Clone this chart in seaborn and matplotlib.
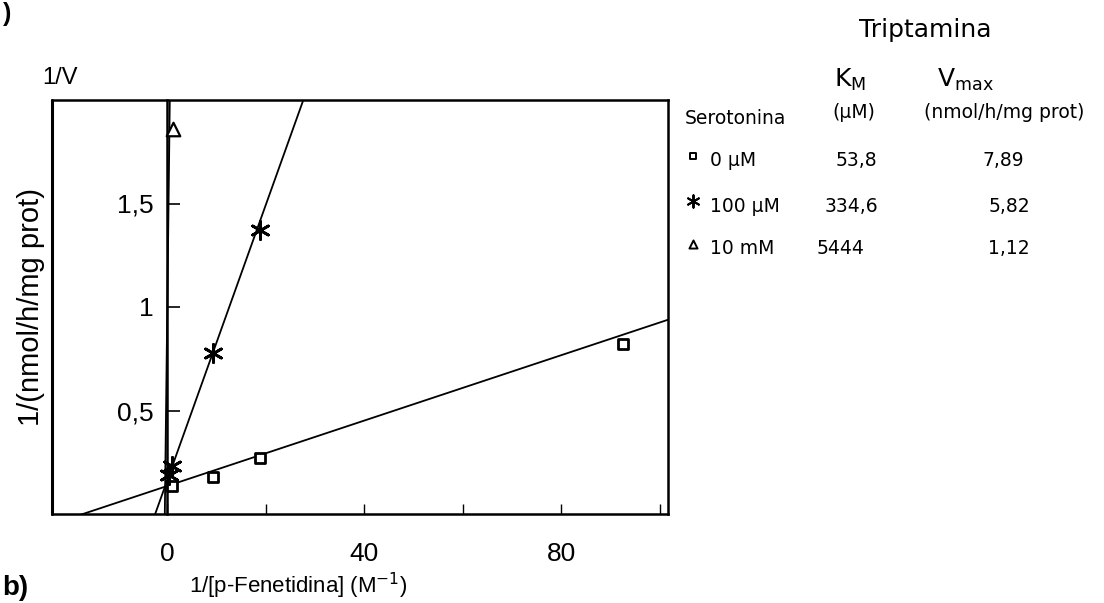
import numpy as np
import pandas as pd
import seaborn as sns
from matplotlib import pyplot as plt

# Lineweaver-Burk points
sq_x = [1.0, 9.3, 18.9, 92.5]
sq_y = [0.135, 0.18, 0.27, 0.82]
star_x = [0.5, 1.0, 9.3, 18.9]
star_y = [0.19, 0.23, 0.78, 1.37]
tri_x = [1.2]
tri_y = [1.86]

# fitted lines as drawn (intercept, slope)
fit_intercepts = [0.135, 0.16, 0.89]
fit_slopes = [0.0079, 0.0665, 1.98]

x_ticks = [0, 40, 80]
x_minor = [20, 60, 100]
y_ticks = [0.5, 1, 1.5]
y_tick_labels = ['0,5', '1', '1,5']

# kinetic table
conc_labels = ['0 µM', '100 µM', '10 mM']
km_values = ['53,8', '334,6', '5444']
vmax_values = ['7,89', '5,82', '1,12']

sns.set_theme(style='white')
plt.rcParams['font.family'] = ['Liberation Sans', 'DejaVu Sans']
plt.rcParams['mathtext.fontset'] = 'custom'
plt.rcParams['mathtext.rm'] = 'DejaVu Sans'
plt.rcParams['mathtext.it'] = 'DejaVu Sans:italic'
for key in ['text.color', 'axes.labelcolor', 'xtick.color', 'ytick.color']:
    plt.rcParams[key] = 'black'

W, H = 1104, 603
fig = plt.figure(figsize=(W / 100, H / 100), dpi=100)
ax = fig.add_axes([52 / W, 1 - 514 / H, 616 / W, 414 / H])

x_lo, x_hi = -23.35, 101.7
ax.set_xlim(x_lo, x_hi)
ax.set_ylim(0, 2.0)

# fitted lines
xs = np.linspace(x_lo, x_hi, 2000)
for b, m in zip(fit_intercepts, fit_slopes):
    line_df = pd.DataFrame({'x': xs, 'y': b + m * xs})
    sns.lineplot(data=line_df, x='x', y='y', ax=ax, color='black', lw=1.3, sort=False)

# points
sns.scatterplot(x=sq_x, y=sq_y, ax=ax, marker='s', s=42, facecolor='white',
                edgecolor='black', linewidth=2, zorder=5)
sns.scatterplot(x=star_x, y=star_y, ax=ax, marker=(6, 2, 0), s=170,
                color='black', linewidth=2, zorder=5)
sns.scatterplot(x=tri_x, y=tri_y, ax=ax, marker='^', s=95, facecolor='white',
                edgecolor='black', linewidth=1.6, zorder=5)

# frame: y axis sits at x = 0, box drawn around
ax.spines['left'].set_position(('data', 0))
for side in ['left', 'bottom', 'top', 'right']:
    ax.spines[side].set_color('black')
    ax.spines[side].set_linewidth(1.8)
ax.axvline(x_lo, color='black', lw=2.2, clip_on=False)

ax.set_xticks(x_ticks)
ax.set_xticklabels([str(t) for t in x_ticks])
ax.set_xticks(x_minor, minor=True)
ax.set_yticks(y_ticks)
ax.set_yticklabels(y_tick_labels)
ax.tick_params(axis='x', which='both', direction='in', length=7, width=1,
               bottom=True, labelsize=19, pad=20, colors='black')
ax.tick_params(axis='y', which='major', direction='in', length=9, width=1.2,
               left=True, labelsize=19, pad=10, colors='black')

ax.set_xlabel('1/[p-Fenetidina] (M$^{-1}$)', fontsize=16, family='Liberation Sans')
ax.xaxis.set_label_coords((298 - 52) / 616, -0.138)
ax.set_ylabel('1/(nmol/h/mg prot)', fontsize=21)
ax.yaxis.set_label_coords(-0.012, 0.50)
ax.text((60 - 52) / 616, (514 - 78) / 414, '1/V', transform=ax.transAxes,
        ha='center', va='center', fontsize=17)

# overlay in pixel coordinates for the table and panel letters
ov = fig.add_axes([0, 0, 1, 1])
ov.set_xlim(0, W)
ov.set_ylim(H, 0)
ov.axis('off')
ov.patch.set_alpha(0)

tab_font = ['DejaVu Sans']
ov.text(925, 30, 'Triptamina', ha='center', va='center', fontsize=18, family=tab_font)
ov.text(850, 80, 'K$_\\mathrm{M}$', ha='center', va='center', fontsize=18, family=tab_font)
ov.text(937, 80, 'V$_\\mathrm{max}$', ha='left', va='center', fontsize=18, family=tab_font)
ov.text(685, 118, 'Serotonina', ha='left', va='center', fontsize=13.5, family=tab_font)
ov.text(854, 112, '(µM)', ha='center', va='center', fontsize=13.5, family=tab_font)
ov.text(1004, 112, '(nmol/h/mg prot)', ha='center', va='center', fontsize=13.5, family=tab_font)

row_y = [161, 206, 249]
km_x = [856, 851, 840]
vmax_x = [1003, 1009, 1009]
row_markers = [dict(marker='s', s=20, facecolor='white', edgecolor='black', linewidth=1.4),
               dict(marker=(6, 2, 0), s=80, color='black', linewidth=1.4),
               dict(marker='^', s=34, facecolor='white', edgecolor='black', linewidth=1.4)]
for i in range(3):
    ov.scatter([693], [row_y[i] - 5], clip_on=False, **row_markers[i])
    ov.text(710, row_y[i], conc_labels[i], ha='left', va='center', fontsize=13.5, family=tab_font)
    ov.text(km_x[i], row_y[i], km_values[i], ha='center', va='center', fontsize=13.5, family=tab_font)
    ov.text(vmax_x[i], row_y[i], vmax_values[i], ha='center', va='center', fontsize=13.5, family=tab_font)

ov.text(3, 2, ')', ha='left', va='top', fontsize=18, fontweight='bold')
ov.text(2, 601, 'b)', ha='left', va='bottom', fontsize=20, fontweight='bold')

fig.savefig('out.png', dpi=100, facecolor='white')
